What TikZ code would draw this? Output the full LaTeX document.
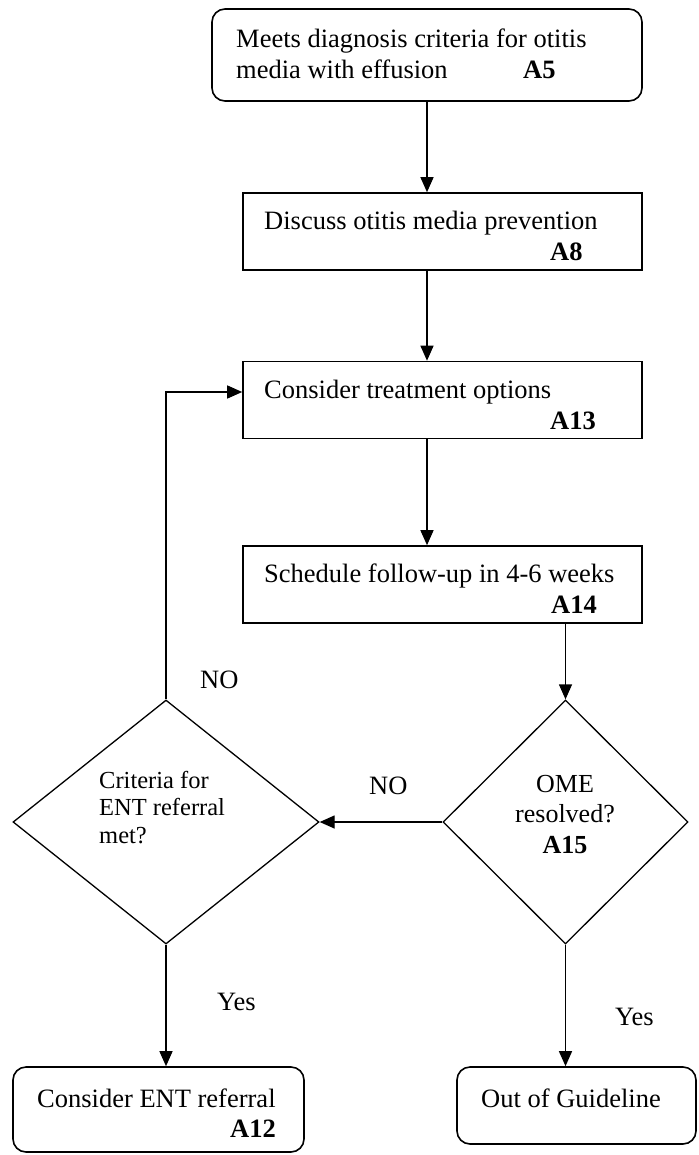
\documentclass[tikz,border=0pt]{standalone}
\usepackage{fontspec}
\setmainfont{Liberation Serif}
\usetikzlibrary{shapes.geometric,arrows.meta}
\tikzset{
  rbox/.style={draw, line width=1.6pt, rounded corners=13pt, inner sep=0pt},
  sbox/.style={draw, line width=1.6pt, inner sep=0pt},
  dbox/.style={draw, diamond, line width=1.3pt, inner sep=0pt},
  txt/.style={inner sep=0pt, anchor=base west, font=\fontsize{26.5pt}{31pt}\selectfont},
  dtxt/.style={inner sep=0pt, anchor=base west, font=\fontsize{24.5pt}{28pt}\selectfont},
  ctxt/.style={inner sep=0pt, anchor=base, font=\fontsize{26pt}{31pt}\selectfont},
  conn/.style={line width=1.3pt, -{Triangle[length=15pt,width=13pt]}},
}
\begin{document}
\begin{tikzpicture}[x=1pt,y=-1pt]
\useasboundingbox (0,0) rectangle (698,1155);
% boxes
\node[rbox, minimum width=430pt, minimum height=92pt] (b1) at (427,55) {};
\node[sbox, minimum width=399pt, minimum height=77pt] (b2) at (442.5,231.5) {};
\node[sbox, minimum width=399pt, minimum height=77pt] (b3) at (442.5,400) {};
\node[sbox, minimum width=399pt, minimum height=77pt] (b4) at (442.5,584.5) {};
\node[dbox, minimum width=306pt, minimum height=244pt] (d1) at (166,822) {};
\node[dbox, minimum width=245pt, minimum height=244pt] (d2) at (565.5,822) {};
\node[rbox, minimum width=291pt, minimum height=85pt] (b5) at (158.5,1109.5) {};
\node[rbox, minimum width=239pt, minimum height=77pt] (b6) at (576.5,1105.5) {};
% texts
\node[txt] (t1a) at (236,48) {Meets diagnosis criteria for otitis};
\node[txt] (t1b) at (236,79) {media with effusion};
\node[txt] (t1c) at (523,79) {\textbf{A5}};
\node[txt] (t2a) at (264,230) {Discuss otitis media prevention};
\node[txt] (t2b) at (550,261) {\textbf{A8}};
\node[txt] (t3a) at (264,398) {Consider treatment options};
\node[txt] (t3b) at (550,429) {\textbf{A13}};
\node[txt] (t4a) at (264,582) {Schedule follow-up in 4-6 weeks};
\node[txt] (t4b) at (551,613) {\textbf{A14}};
\node[dtxt] (t5a) at (99,788) {Criteria for};
\node[dtxt] (t5b) at (99,815) {ENT referral};
\node[dtxt] (t5c) at (99,843) {met?};
\node[ctxt] (t6a) at (565,792) {OME};
\node[ctxt] (t6b) at (565,822) {resolved?};
\node[ctxt] (t6c) at (565,853) {\textbf{A15}};
\node[txt] (t7a) at (37,1107) {Consider ENT referral};
\node[txt, anchor=base east] (t7b) at (276,1137) {\textbf{A12}};
\node[txt] (t8a) at (481,1107) {Out of Guideline};
% labels
\node[txt] (l1) at (200,688) {NO};
\node[txt] (l2) at (369,794) {NO};
\node[txt] (l3) at (217,1010) {Yes};
\node[txt] (l4) at (615,1025) {Yes};
% connectors
\draw[conn] (b1.south) -- (b1.south |- b2.north);
\draw[conn] (b1.south |- b2.south) -- (b1.south |- b3.north);
\draw[conn] (b1.south |- b3.south) -- (b1.south |- b4.north);
\draw[conn] (d2.north |- b4.south) -- (d2.north);
\draw[conn] (d2.west) -- (d1.east);
\draw[conn] (d1.north) |- ([yshift=8pt]b3.west);
\draw[conn] (d1.south) -- (d1.south |- b5.north);
\draw[conn] (d2.south) -- (d2.south |- b6.north);
\end{tikzpicture}
\end{document}
